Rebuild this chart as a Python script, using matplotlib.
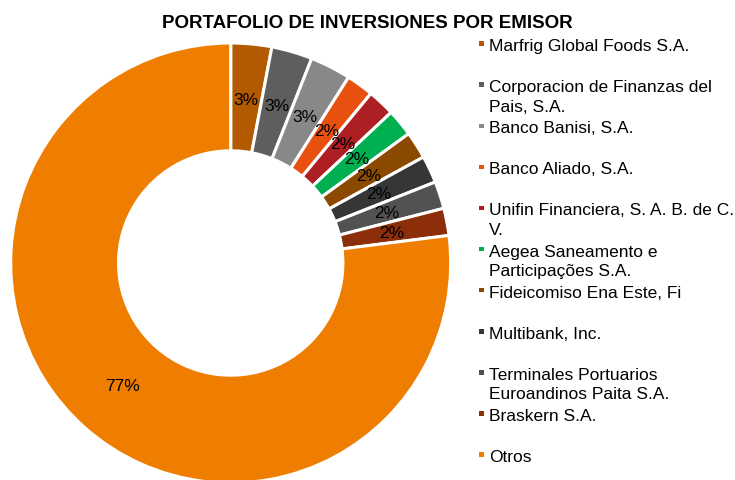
import matplotlib
matplotlib.use("Agg")
import matplotlib.pyplot as plt
from matplotlib.patches import Rectangle

plt.rcParams['font.family'] = ['Liberation Sans', 'DejaVu Sans']

title = "PORTAFOLIO DE INVERSIONES POR EMISOR"
emisores = [
    "Marfrig Global Foods S.A.",
    "Corporacion de Finanzas del\nPais, S.A.",
    "Banco Banisi, S.A.",
    "Banco Aliado, S.A.",
    "Unifin Financiera, S. A. B. de C.\nV.",
    "Aegea Saneamento e\nParticipações S.A.",
    "Fideicomiso Ena Este, Fi",
    "Multibank, Inc.",
    "Terminales Portuarios\nEuroandinos Paita S.A.",
    "Braskern S.A.",
    "Otros",
]
porcentajes = [3, 3, 3, 2, 2, 2, 2, 2, 2, 2, 77]
colores = ["#B35A00", "#5E5E5C", "#888888", "#E8500F", "#AD1F23", "#00B050",
           "#8C4A00", "#363636", "#525252", "#8C2E0A", "#EF7D00"]

W, H = 735, 481
fig = plt.figure(figsize=(W / 100, H / 100), dpi=100)

def fx(x):
    return x / W

def fy(y):
    return 1 - y / H

# donut axes: center (230.7, 264) px, radius 220 px
cx, cy, R = 230.7, 264.0, 220.0
ax = fig.add_axes([fx(cx - R), fy(cy + R), 2 * R / W, 2 * R / H])
wedges, texts, autotexts = ax.pie(
    porcentajes, colors=colores, startangle=90, counterclock=False,
    autopct='%.0f%%', pctdistance=0.745, radius=1.0,
    wedgeprops=dict(width=0.49, edgecolor='white', linewidth=2.2),
    textprops=dict(fontsize=12.5, color='black'))
ax.set_xlim(-1, 1)
ax.set_ylim(-1, 1)
ax.axis('off')

fig.text(0.5, fy(23.5), title, ha='center', va='center',
         fontsize=13.5, fontweight='bold', color='black')

# legend (manual, to mimic wrapped entries)
for i, (lab, col) in enumerate(zip(emisores, colores)):
    yc = 45 + 41.1 * i
    fig.add_artist(Rectangle((fx(479.3), fy(yc + 1.8)), 4.5 / W, 4.5 / H,
                             transform=fig.transFigure, facecolor=col,
                             edgecolor='none'))
    for j, line in enumerate(lab.split("\n")):
        fig.text(fx(489.3), fy(yc + 6 + 19.5 * j), line, ha='left',
                 va='baseline', fontsize=12.5, color='black')

fig.savefig("out.png", dpi=100)
